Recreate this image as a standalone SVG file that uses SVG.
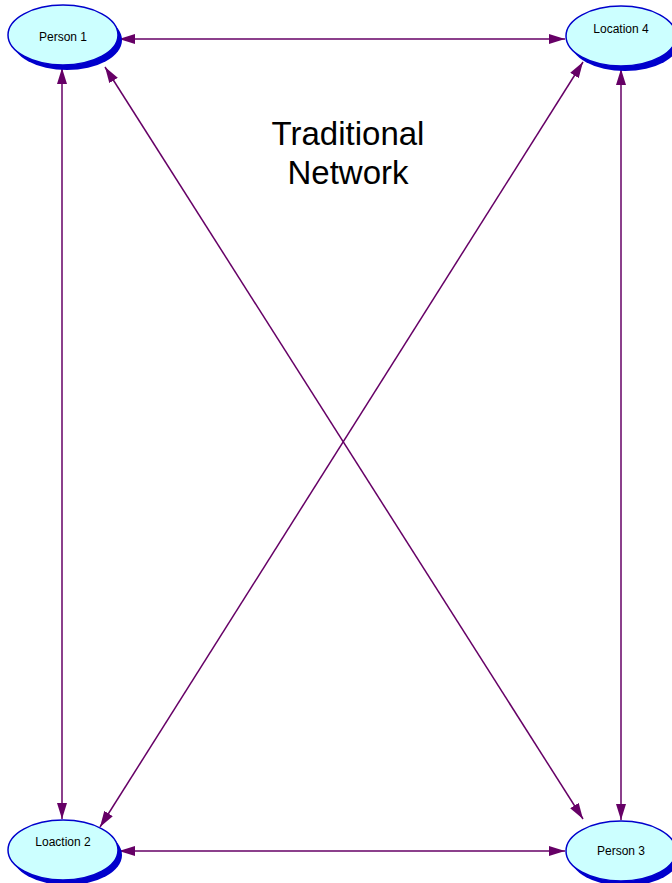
<svg xmlns="http://www.w3.org/2000/svg" width="672" height="883" viewBox="0 0 672 883">
<style>
.sh{fill:#0000cc;stroke:none}
.nd{fill:#ccffff;stroke:#0000cc;stroke-width:1.5}
.lb{font-family:"Liberation Sans",Arial,sans-serif;font-size:12px;fill:#000;text-anchor:middle}
.ed{stroke:#660066;stroke-width:1.5;fill:none;marker-start:url(#a);marker-end:url(#a)}
.tt{font-family:"Liberation Sans",Arial,sans-serif;font-size:33px;fill:#000;text-anchor:middle}
</style>
<defs>
<marker id="a" viewBox="0 0 16 10" refX="16" refY="5" markerWidth="16" markerHeight="10" markerUnits="userSpaceOnUse" orient="auto-start-reverse">
<path d="M0,0 L16,5 L0,10 Z" fill="#660066"/>
</marker>
</defs>
<rect width="672" height="883" fill="#fff"/>
<g id="connectors">
<line class="ed" x1="119" y1="39" x2="565" y2="39"/>
<line class="ed" x1="119" y1="851" x2="565" y2="851"/>
<line class="ed" x1="62" y1="68" x2="62" y2="819"/>
<line class="ed" x1="621" y1="69" x2="621" y2="820"/>
<line class="ed" x1="105" y1="67" x2="583" y2="819"/>
<line class="ed" x1="583" y1="62" x2="100" y2="827"/>
</g>
<g id="person1">
<ellipse class="sh" cx="67" cy="40" rx="55" ry="30"/>
<ellipse class="nd" cx="63" cy="35" rx="55" ry="30"/>
<text class="lb" x="63" y="41">Person 1</text>
</g>
<g id="location4">
<ellipse class="sh" cx="625" cy="41" rx="55" ry="30"/>
<ellipse class="nd" cx="621" cy="36" rx="55" ry="30"/>
<text class="lb" x="621" y="33">Location 4</text>
</g>
<g id="location2">
<ellipse class="sh" cx="67" cy="855" rx="55" ry="30"/>
<ellipse class="nd" cx="63" cy="850" rx="55" ry="30"/>
<text class="lb" x="63" y="846">Loaction 2</text>
</g>
<g id="person3">
<ellipse class="sh" cx="625" cy="856" rx="55" ry="30"/>
<ellipse class="nd" cx="621" cy="851" rx="55" ry="30"/>
<text class="lb" x="621" y="855">Person 3</text>
</g>
<g id="title">
<text class="tt" x="348" y="145">Traditional</text>
<text class="tt" x="348" y="184">Network</text>
</g>
</svg>
